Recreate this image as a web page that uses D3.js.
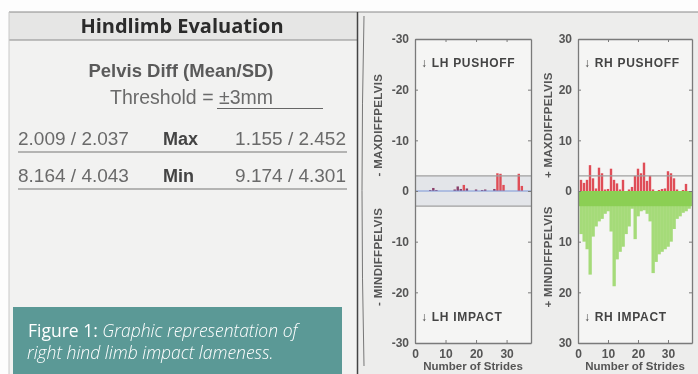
<!DOCTYPE html>
<html>
<head>
<meta charset="utf-8">
<script src="https://cdn.jsdelivr.net/npm/d3@7"></script>
<style>
  body { margin: 0; background: #fff; }
  svg { display: block; filter: blur(0.35px); }
</style>
</head>
<body>
<div id="chart"></div>
<script>
// stride numbers 1..37
const strides = d3.range(1, 38);

// values, one per stride (mm)
const lhPushoff = [0, 0, 0, 0, 0.2, 0.6, 0.2, 0, 0, 0, 0, 0, 0.3, 0.9, 0.4, 1.2, 0.5, 0, 0, 0.3,
  0, 0.2, 0.3, 0, 0, 0.4, 3.5, 3.4, 1.2, 0, 0, 0, 0, 3.4, 1.0, 0, 0];
const lhImpact = [0, 0, 0, 0, 0, 0, 0, 0, 0, 0, 0, 0, 0, 0, 0, 0, 0, 0, 0, 0,
  0, 0, 0, 0, 0, 0, 0, 0, 0, 0, 0, 0, 0, 0, 0, 0, 0];
const rhPushoff = [2.2, 1.6, 2.2, 5.1, 2.5, 0.5, 4.6, 3.5, 0.3, 0.4, 4.4, 2.2, 1.5, 0.3, 2.2, 0, 0.3, 0.8, 3.0, 4.4,
  3.5, 5.6, 2.0, 3.0, 0.3, 0, 0.2, 0.4, 0.5, 3.9, 3.5, 2.5, 0.3, 0, 0.2, 1.4, 0];
const rhImpact = [8.5, 10, 11.5, 16.5, 9, 7, 6, 5.5, 4.5, 4, 8, 18.8, 13.5, 12, 11, 8.5, 7, 3.5, 9.5, 5,
  4, 3.8, 4.5, 6, 16.2, 14, 12.5, 12, 11.5, 11, 10, 7.5, 5.5, 5, 4.3, 4, 3.5];

const yTicks = [-30, -20, -10, 0, 10, 20, 30];
const xTicks = [0, 10, 20, 30];
const threshold = 3;

// table text
const tableLeft = ["2.009 / 2.037", "8.164 / 4.043"];
const tableLabels = ["Max", "Min"];
const tableRight = ["1.155 / 2.452", "9.174 / 4.301"];

var width = 698, height = 374;

var svg = d3.select("#chart")
  .append("svg")
  .attr("width", width)
  .attr("height", height);

// backgrounds
svg.append("rect").attr("x", 0).attr("y", 0).attr("width", width).attr("height", height).attr("fill", "#fdfdfd");
svg.append("rect").attr("x", 9).attr("y", 12).attr("width", 348).attr("height", 362).attr("fill", "#f2f2f1");
svg.append("rect").attr("x", 9).attr("y", 12).attr("width", 348).attr("height", 28).attr("fill", "#e6e6e5");
svg.append("rect").attr("x", 358).attr("y", 12).attr("width", 340).attr("height", 362).attr("fill", "#ededec");
svg.append("line").attr("x1", 9).attr("x2", 698).attr("y1", 12).attr("y2", 12).attr("stroke", "#8a8a8a").attr("stroke-width", 1.2);
svg.append("line").attr("x1", 9).attr("x2", 357).attr("y1", 40).attr("y2", 40).attr("stroke", "#8a8a8a");
svg.append("line").attr("x1", 9).attr("x2", 9).attr("y1", 12).attr("y2", 374).attr("stroke", "#c8c8c8");
svg.append("line").attr("x1", 357.5).attr("x2", 357.5).attr("y1", 12).attr("y2", 374).attr("stroke", "#444").attr("stroke-width", 1.5);
// bracket on the right screen
svg.append("path").attr("d", "M364,16 Q360,190 364,366").attr("fill", "none").attr("stroke", "#777").attr("stroke-width", 1);

// ---- left table ----
svg.append("text").attr("x", 182).attr("y", 33).attr("text-anchor", "middle")
  .style("font-family", "Open Sans").style("font-weight", "bold").style("font-size", "20px")
  .attr("fill", "#2b2b2b").text("Hindlimb Evaluation");

svg.append("text").attr("x", 181).attr("y", 77).attr("text-anchor", "middle")
  .style("font-family", "Liberation Sans").style("font-weight", "bold").style("font-size", "18.5px")
  .attr("fill", "#5a5a5a").text("Pelvis Diff (Mean/SD)");

var thr = svg.append("text").attr("x", 110).attr("y", 104)
  .style("font-family", "Liberation Sans").style("font-size", "19.5px")
  .attr("fill", "#6a6a6a");
thr.append("tspan").text("Threshold = ");
thr.append("tspan").text("\u00B13mm");
svg.append("line").attr("x1", 217).attr("x2", 323).attr("y1", 108.5).attr("y2", 108.5).attr("stroke", "#666");

tableLeft.forEach(function (t, i) {
  var yb = 145 + i * 37;
  svg.append("text").attr("x", 18).attr("y", yb)
    .style("font-family", "Liberation Sans").style("font-size", "19px")
    .attr("fill", "#6a6a6a").text(t);
  svg.append("text").attr("x", 163).attr("y", yb)
    .style("font-family", "Liberation Sans").style("font-weight", "bold").style("font-size", "18px")
    .attr("fill", "#444").text(tableLabels[i]);
  svg.append("text").attr("x", 346).attr("y", yb).attr("text-anchor", "end")
    .style("font-family", "Liberation Sans").style("font-size", "19px")
    .attr("fill", "#6a6a6a").text(tableRight[i]);
  svg.append("line").attr("x1", 18).attr("x2", 347).attr("y1", yb + 7).attr("y2", yb + 7)
    .attr("stroke", "#777").attr("stroke-width", 1.2);
});

// caption box
svg.append("rect").attr("x", 13).attr("y", 307).attr("width", 329).attr("height", 67).attr("fill", "#5b9996");
var cap1 = svg.append("text").attr("x", 28).attr("y", 337)
  .style("font-family", "Open Sans").style("font-size", "17.5px").attr("fill", "#fff");
cap1.append("tspan").text("Figure 1: ");
cap1.append("tspan").style("font-style", "italic").style("font-weight", 300).text("Graphic representation of");
svg.append("text").attr("x", 27).attr("y", 359)
  .style("font-family", "Open Sans").style("font-size", "17.5px").style("font-style", "italic").style("font-weight", 300)
  .attr("fill", "#fff").text("right hind limb impact lameness.");

// ---- charts ----
function drawPanel(opts) {
  var x = d3.scaleLinear().domain([0, 38]).range([opts.left, opts.right]);
  var y = d3.scaleLinear().domain([-30, 30]).range([343, 39]);
  var g = svg.append("g");
  var step = x(1) - x(0);

  g.append("rect").attr("x", x(0)).attr("y", y(30)).attr("width", x(38) - x(0)).attr("height", y(-30) - y(30))
    .attr("fill", "#f5f5f4");

  if (opts.band) {
    g.append("rect").attr("x", x(0)).attr("y", y(threshold)).attr("width", x(38) - x(0))
      .attr("height", y(-threshold) - y(threshold)).attr("fill", "#e3e5e9");
  }

  // impact bars (downwards)
  g.append("g").selectAll("rect")
    .data(strides.map(function (s, i) { return { s: s, v: opts.impact[i] }; }).filter(function (d) { return d.v > 0; }))
    .enter().append("rect")
    .attr("x", function (d) { return x(d.s) - step / 2; })
    .attr("y", y(0))
    .attr("width", step + 0.3)
    .attr("height", function (d) { return y(-d.v) - y(0); })
    .attr("fill", "#9cd86c")
    .attr("fill-opacity", 0.9);

  if (opts.impactBand) {
    g.append("rect").attr("x", x(0)).attr("y", y(0)).attr("width", x(38) - x(0))
      .attr("height", y(-threshold) - y(0)).attr("fill", "#86cd4c").attr("fill-opacity", 0.85);
  }

  // pushoff bars (upwards)
  g.append("g").selectAll("rect")
    .data(strides.map(function (s, i) { return { s: s, v: opts.pushoff[i] }; }).filter(function (d) { return d.v > 0; }))
    .enter().append("rect")
    .attr("x", function (d) { return x(d.s) - 1.2; })
    .attr("y", function (d) { return y(d.v); })
    .attr("width", 2.4)
    .attr("height", function (d) { return y(0) - y(d.v); })
    .attr("fill", function (d) { return d.v < 1 && opts.band ? "#8a3f6a" : "#df4d57"; });

  // threshold lines
  g.append("line").attr("x1", x(0)).attr("x2", x(38)).attr("y1", y(threshold)).attr("y2", y(threshold))
    .attr("stroke", "#a0a0a0").attr("stroke-width", 1.2);
  if (opts.band) {
    g.append("line").attr("x1", x(0)).attr("x2", x(38)).attr("y1", y(-threshold)).attr("y2", y(-threshold))
      .attr("stroke", "#a0a0a0").attr("stroke-width", 1.2);
    g.append("line").attr("x1", x(0)).attr("x2", x(38)).attr("y1", y(0)).attr("y2", y(0))
      .attr("stroke", "#7b96d8").attr("stroke-width", 1);
  }

  // axes with inward ticks
  var fmt = function (d) { return d === 0 ? "0" : opts.tickSign + Math.abs(d); };
  var ax = [
    { a: d3.axisLeft(y).tickValues(yTicks).tickFormat(fmt), t: "translate(" + x(0) + ",0)" },
    { a: d3.axisRight(y).tickValues(yTicks).tickFormat(""), t: "translate(" + x(38) + ",0)" },
    { a: d3.axisBottom(x).tickValues(xTicks), t: "translate(0," + y(-30) + ")" },
    { a: d3.axisTop(x).tickValues(xTicks).tickFormat(""), t: "translate(0," + y(30) + ")" }
  ];
  ax.forEach(function (o) {
    var ag = g.append("g").attr("transform", o.t)
      .call(o.a.tickSizeInner(-3).tickSizeOuter(0).tickPadding(6));
    ag.select(".domain").attr("stroke", "#7a7a7a").attr("stroke-width", 1.3);
    ag.selectAll(".tick line").attr("stroke", "#7a7a7a");
    ag.selectAll(".tick text").attr("fill", "#555")
      .style("font-family", "Liberation Sans").style("font-weight", "bold").style("font-size", "12px");
  });

  // in-panel labels
  [["\u2193 " + opts.tag + " PUSHOFF", 67], ["\u2193 " + opts.impactTag + " IMPACT", 321]].forEach(function (l) {
    g.append("text").attr("x", x(0) + 6).attr("y", l[1])
      .style("font-family", "Liberation Sans").style("font-weight", "bold").style("font-size", "12px")
      .style("letter-spacing", "0.7px")
      .attr("fill", "#444").text(l[0]);
  });

  // rotated y labels
  [[opts.sign + " MAXDIFFPELVIS", y(13)], [opts.sign + " MINDIFFPELVIS", y(-13)]].forEach(function (l) {
    g.append("text")
      .attr("transform", "translate(" + (opts.left - opts.labelOffset) + "," + l[1] + ") rotate(-90)")
      .attr("text-anchor", "middle")
      .style("font-family", "Liberation Sans").style("font-weight", "bold").style("font-size", "11.5px")
      .style("letter-spacing", "0.3px")
      .attr("fill", "#555").text(l[0]);
  });

  g.append("text").attr("x", (opts.left + opts.right) / 2).attr("y", 370).attr("text-anchor", "middle")
    .style("font-family", "Liberation Sans").style("font-weight", "bold").style("font-size", "11.5px")
    .attr("fill", "#555").text("Number of Strides");
}

drawPanel({ left: 415, right: 531, pushoff: lhPushoff, impact: lhImpact, sign: "-", tickSign: "-", tag: "LH", impactTag: "LH", band: true, impactBand: false, labelOffset: 33 });
drawPanel({ left: 578, right: 692, pushoff: rhPushoff, impact: rhImpact, sign: "+", tickSign: "", tag: "RH", impactTag: "RH", band: false, impactBand: true, labelOffset: 26 });
</script>
</body>
</html>
